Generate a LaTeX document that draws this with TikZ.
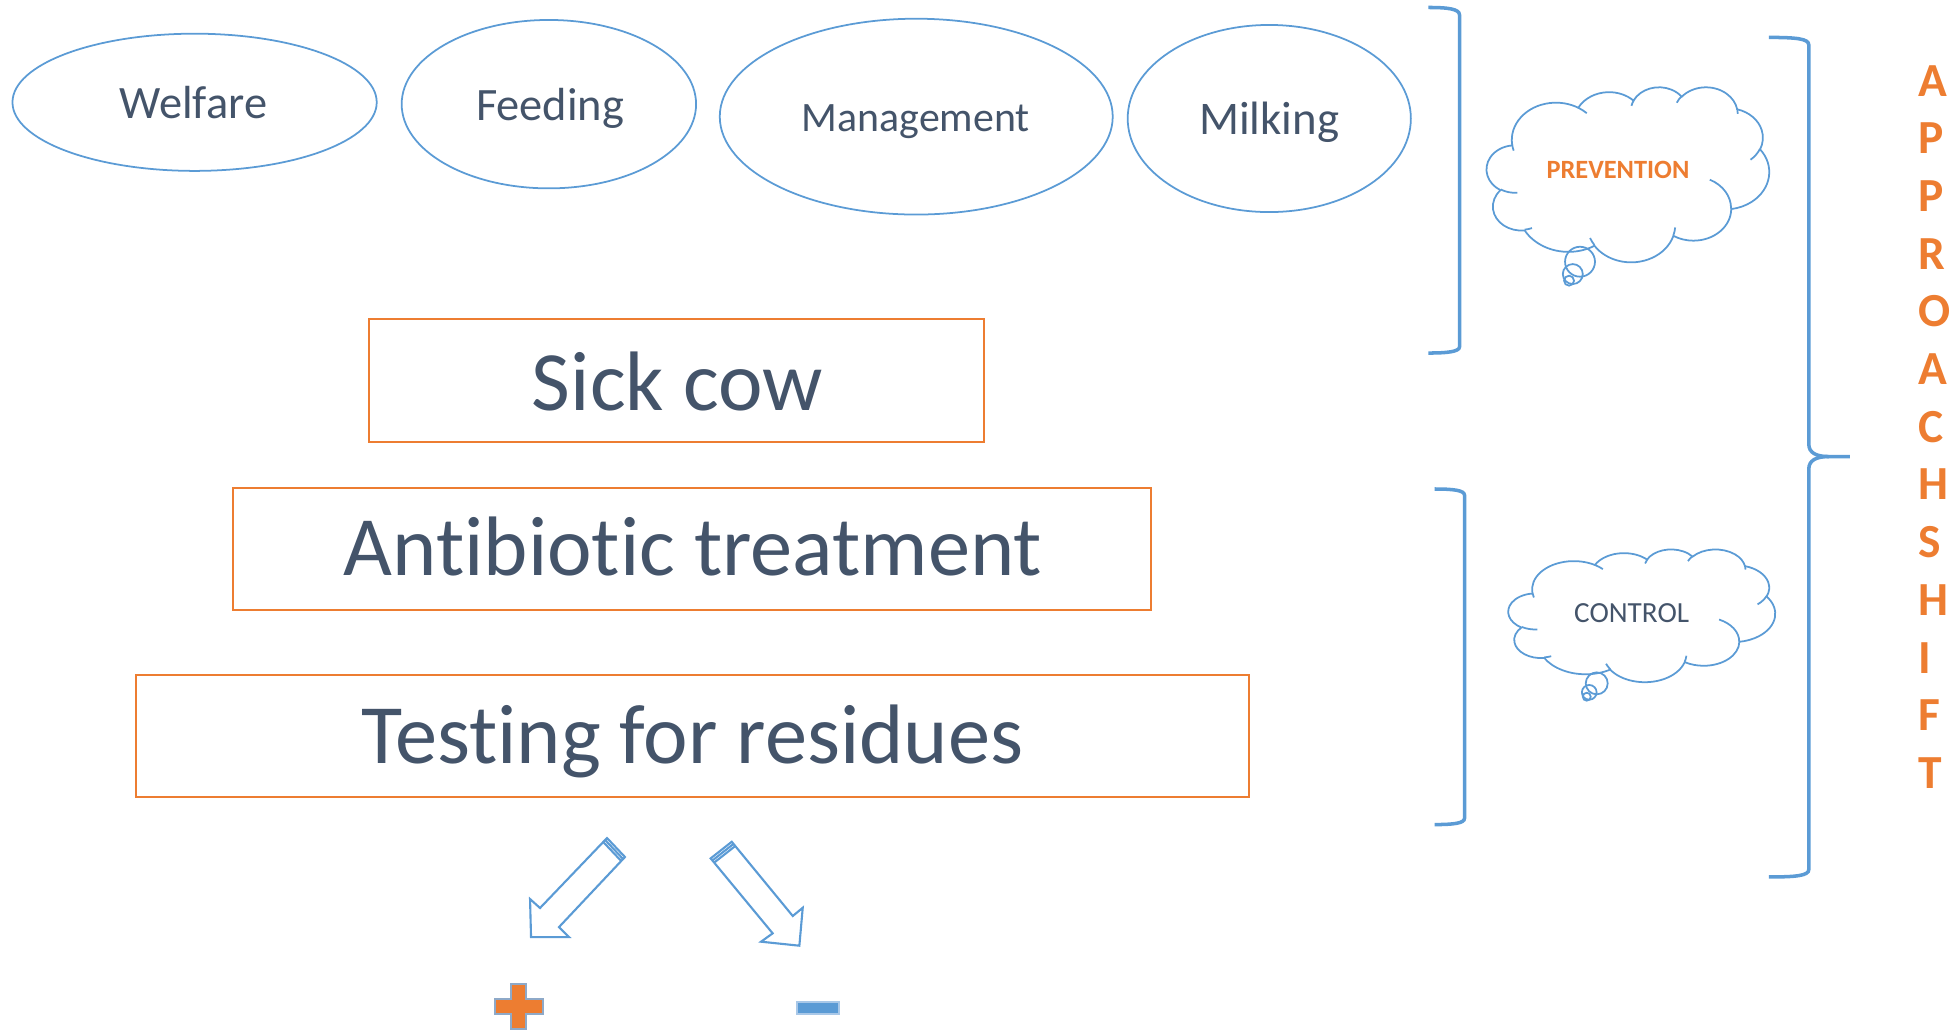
\documentclass[tikz,border=0pt]{standalone}
\usepackage{fontspec}
\setmainfont{Carlito}[RawFeature={-liga;-clig;-calt;-dlig}]
\usetikzlibrary{shapes.geometric}
\definecolor{oblue}{HTML}{5B9BD5}
\definecolor{oorange}{HTML}{ED7D31}
\definecolor{otext}{HTML}{44546A}
\definecolor{plusedge}{HTML}{8EA9C8}
\definecolor{minusedge}{HTML}{A9C8E8}
\newcommand\upx{0.012474cm}
\newcommand\nolig{\kern0pt }
% arc given with OOXML-style visual angles
\newcommand\carc[4]{arc[x radius=#1, y radius=#2, start angle={atan2(#1*sin(#3),#2*cos(#3))}, delta angle={mod(atan2(#1*sin(#3+#4),#2*cos(#3+#4))-atan2(#1*sin(#3),#2*cos(#3))+720,360)}]}
\newcommand\cloudmain{(39.00,143.70)
 \carc{67.53}{91.90}{-190.487}{123.780}
 \carc{53.33}{72.67}{-144.102}{89.945}
 \carc{43.65}{59.45}{-145.808}{99.723}
 \carc{48.57}{65.95}{-130.986}{117.242}
 \carc{53.33}{72.73}{-78.709}{109.027}
 \carc{67.75}{92.20}{-46.267}{130.269}
 \carc{57.85}{78.67}{0.625}{114.033}
 \carc{67.52}{92.15}{22.452}{115.173}
 \carc{77.20}{105.43}{66.243}{75.711}
 \carc{43.60}{59.18}{-274.942}{146.736}
 \carc{43.45}{59.45}{-246.829}{152.519} -- cycle}
\newcommand\cloudinner{(46.93,261.77) \carc{43.45}{59.45}{86.742}{26.430}
 (69.28,348.99) \carc{43.60}{59.18}{73.610}{11.447}
 (164.78,390.90) \carc{67.52}{92.15}{137.624}{14.081}
 (288.27,347.51) \carc{67.52}{92.15}{6.453}{15.998}
 (341.29,229.54) \carc{57.85}{78.67}{-70.292}{70.917}
 (417.98,153.54) \carc{53.33}{72.73}{30.318}{27.752}
 (383.24,54.26) \carc{48.57}{65.95}{-13.744}{14.859}
 (290.78,39.52) \carc{48.57}{65.95}{-149.181}{18.195}
 (221.41,47.20) \carc{43.65}{59.45}{-163.494}{17.686}
 (140.00,51.92) \carc{67.53}{91.90}{-66.707}{12.319}
 (41.27,157.89) \carc{67.53}{91.90}{157.654}{11.858}}
\begin{document}
\begin{tikzpicture}[x=0.012474cm, y=-0.012474cm,
  oval/.style={ellipse, draw=oblue, line width=0.5pt, inner sep=0pt},
  ovaltext/.style={text=otext, anchor=base, inner sep=0pt},
  bigbox/.style={draw=oorange, line width=0.6pt, inner sep=0pt},
  boxtext/.style={text=otext, anchor=base, inner sep=0pt, font=\fontsize{24}{28}\selectfont},
  brk/.style={draw=oblue, line width=1pt},
  cloudline/.style={draw=oblue, line width=0.5pt},
  blockarrow/.style={draw=oblue, line width=0.6pt, line join=miter},
  letter/.style={text=oorange, font=\bfseries\fontsize{13.5}{16}\selectfont, anchor=base west, inner sep=0pt}]
\useasboundingbox (0,0) rectangle (1568,826);

% ovals
\node[oval, minimum width=292*\upx, minimum height=110*\upx] (welfare) at (156,82) {};
\node[oval, minimum width=236*\upx, minimum height=135*\upx] (feeding) at (440,83.5) {};
\node[oval, minimum width=315*\upx, minimum height=157*\upx] (management) at (734.5,93.5) {};
\node[oval, minimum width=227*\upx, minimum height=150*\upx] (milking) at (1017.5,95) {};
\node[ovaltext, font=\fontsize{13.2}{15}\selectfont] (twelfare) at (155,94.9) {Welfare};
\node[ovaltext, font=\fontsize{13.2}{15}\selectfont] (tfeeding) at (441,96.2) {Feeding};
\node[ovaltext, font=\fontsize{11.9}{14}\selectfont] (tmanagement) at (734.2,105.6) {Management};
\node[ovaltext, font=\fontsize{13.3}{15}\selectfont] (tmilking) at (1017.5,108.2) {Milking};

% boxes
\node[bigbox, minimum width=493*\upx, minimum height=98*\upx] (sick) at (542.5,305) {};
\node[bigbox, minimum width=736*\upx, minimum height=98*\upx] (anti) at (555,440) {};
\node[bigbox, minimum width=892*\upx, minimum height=98*\upx] (test) at (555,590) {};
\node[boxtext] (tsick) at (543,328.7) {Sick cow};
\node[boxtext] (tanti) at (555.5,461) {Ant\nolig ibiot\nolig ic treatment};
\node[boxtext] (ttest) at (555,611.9) {Test\nolig ing for residues};

% brackets
\draw[brk] (1145,6) .. controls (1160,6) and (1170,7) .. (1170,12) -- (1170,278) .. controls (1170,282) and (1160,283) .. (1145,283);
\draw[brk] (1150,392) .. controls (1165,392) and (1174,393) .. (1174,397) -- (1174,656) .. controls (1174,660) and (1165,661) .. (1150,661);
\draw[brk] (1418,30) .. controls (1440,30) and (1450,31) .. (1450,36) -- (1450,356) .. controls (1450,363) and (1456,366) .. (1466,366) -- (1483,366);
\draw[brk] (1466,366) .. controls (1456,366) and (1450,369) .. (1450,376) -- (1450,697) .. controls (1450,702) and (1440,703) .. (1418,703);

% clouds
\begin{scope}[shift={(1191.8,69.5)}, xscale=226.4/432, yscale=140.3/432]
  \draw[cloudline] \cloudmain;
  \draw[cloudline] \cloudinner;
\end{scope}
\draw[cloudline] (1266.6,209.8) circle[radius=12];
\draw[cloudline] (1260.8,219.7) circle[radius=8];
\draw[cloudline] (1257.8,225) circle[radius=4];
\node[text=oorange, font=\bfseries\fontsize{7.5}{9}\selectfont] (prevention) at (1297,136.3) {PREVENTION};

\begin{scope}[shift={(1209.2,440.1)}, xscale=213.8/432, yscale=106.4/432]
  \draw[cloudline] \cloudmain;
  \draw[cloudline] \cloudinner;
\end{scope}
\draw[cloudline] (1280,547.8) circle[radius=8.8];
\draw[cloudline] (1274,555) circle[radius=5.9];
\draw[cloudline] (1272,558.5) circle[radius=3.2];
\node[text=otext, font=\fontsize{8.3}{10}\selectfont] (control) at (1308,491.7) {CONTROL};

% vertical word
\foreach \ch [count=\i from 0] in {A,P,P,R,O,A,C,H,S,H,I,F,T}
  \node[letter] (L\i) at (1537,77+46.25*\i) {\ch};

% block arrows
\draw[blockarrow] (486.6,671.8) -- (432.9,727.9) -- (424.9,720.7) -- (425.7,751.2) -- (456.2,751.2) -- (448.1,743.2) -- (501,687) -- cycle;
\draw[blockarrow] (485.1,673.4) -- (499.5,688.6);
\draw[blockarrow] (483.6,675) -- (498,690.2);
\draw[blockarrow] (569.7,688.1) -- (619.4,748.2) -- (610.1,754.9) -- (640.8,758.1) -- (643.5,727.7) -- (635.5,734.3) -- (586.6,674.8) -- cycle;
\draw[blockarrow] (571.1,689.8) -- (588,676.5);
\draw[blockarrow] (572.5,691.5) -- (589.4,678.2);

% plus and minus
\filldraw[fill=oorange, draw=plusedge, line width=0.5pt] (409.9,788.6) -- (421.9,788.6) -- (421.9,800.8) -- (435.1,800.8) -- (435.1,812.8) -- (421.9,812.8) -- (421.9,825) -- (409.9,825) -- (409.9,812.8) -- (396.7,812.8) -- (396.7,800.8) -- (409.9,800.8) -- cycle;
\filldraw[fill=oblue, draw=minusedge, line width=0.5pt] (638.7,803) rectangle (672.8,812.9);
\end{tikzpicture}
\end{document}
